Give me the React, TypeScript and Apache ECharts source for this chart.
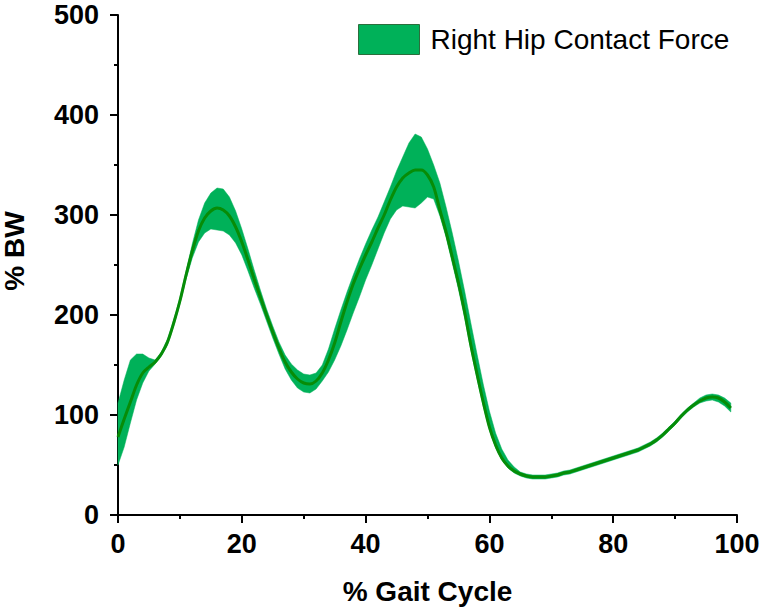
import React, { useEffect, useRef } from "react";
import * as echarts from "echarts";

const gaitPct: number[] = Array.from({ length: 100 }, (_, i) => i);

const meanForce: number[] = [
  78, 96, 113, 130, 142, 148, 153, 161, 173, 192,
  214, 240, 264, 284, 297, 304, 307, 305, 299, 288,
  273, 255, 236, 218, 200, 183, 167, 153, 143, 136,
  132, 131, 134, 142, 155, 172, 193, 213, 231, 246,
  260, 273, 287, 300, 315, 328, 337, 342, 345, 345,
  340, 328, 305, 283, 258, 232, 203, 170, 141, 113,
  88, 70, 57, 49, 44, 41, 39, 38, 38, 38,
  39, 40, 42, 43, 45, 47, 49, 51, 53, 55,
  57, 59, 61, 63, 65, 68, 71, 75, 80, 86,
  92, 99, 105, 110, 114, 117, 118, 117, 113, 107,
];

const upperForce: number[] = [
  112, 135, 155, 161, 161, 157, 155, 163, 176, 195,
  217, 244, 271, 295, 312, 322, 327, 326, 318, 304,
  286, 266, 245, 225, 206, 189, 173, 160, 151, 145,
  141, 140, 142, 150, 166, 186, 205, 223, 240, 256,
  271, 285, 298, 313, 328, 344, 358, 372, 381, 378,
  366, 350, 332, 308, 282, 254, 224, 192, 161, 131,
  104, 82, 66, 55, 48, 43, 41, 40, 40, 40,
  41, 42, 44, 45, 47, 49, 51, 53, 55, 57,
  59, 61, 63, 65, 67, 70, 73, 77, 82, 88,
  94, 101, 107, 112, 117, 120, 121, 120, 117, 112,
];

const lowerForce: number[] = [
  50, 68, 92, 115, 132, 144, 151, 159, 170, 189,
  211, 236, 257, 273, 282, 286, 285, 284, 280, 272,
  260, 244, 227, 211, 194, 177, 161, 146, 135, 127,
  123, 122, 126, 134, 143, 155, 169, 185, 202, 218,
  235, 250, 266, 282, 296, 305, 309, 308, 307, 312,
  318, 316, 299, 278, 252, 226, 197, 165, 136, 109,
  85, 67, 55, 47, 42, 39, 37, 36, 36, 36,
  37, 38, 40, 41, 43, 45, 47, 49, 51, 53,
  55, 57, 59, 61, 63, 66, 69, 73, 78, 84,
  90, 97, 103, 108, 112, 114, 115, 113, 109, 103,
];

const seriesName = "Right Hip Contact Force";
const xTicks = { min: 0, max: 100, interval: 20 };
const yTicks = { min: 0, max: 500, interval: 100 };

const BAND = "#00B159";
const MEAN = "#078c07";
const FONT = "'Liberation Sans', Arial, Helvetica, sans-serif";

export default function App() {
  const ref = useRef<HTMLDivElement>(null);
  useEffect(() => {
    document.body.style.margin = "0";
    if (!ref.current) return;
    const chart = echarts.init(ref.current, undefined, { renderer: "svg" });
    const axisCommon = {
      axisLine: { show: true, lineStyle: { color: "#000", width: 2 } },
      axisTick: { show: true, inside: false, length: 8, lineStyle: { color: "#000", width: 2 } },
      minorTick: { show: true, splitNumber: 2, length: 4, lineStyle: { color: "#000", width: 2 } },
      splitLine: { show: false },
      nameLocation: "middle" as const,
    };
    const nameStyle = { fontFamily: FONT, fontWeight: "bold", fontSize: 28, color: "#000" };
    chart.setOption({
      animation: false,
      backgroundColor: "#fff",
      grid: {
        left: 118,
        right: 25,
        top: 15,
        bottom: 95,
        containLabel: false,
        outerBoundsMode: "none",
      },
      legend: {
        show: true,
        left: 358,
        top: 24,
        padding: 0,
        itemWidth: 61,
        itemHeight: 30,
        icon: "rect",
        data: [
          {
            name: seriesName,
            itemStyle: { color: BAND, borderColor: "#2b6e3c", borderWidth: 1 },
          },
        ],
        textStyle: {
          fontFamily: FONT,
          fontSize: 28,
          color: "#000",
          padding: [0, 0, 0, 6],
        },
      },
      xAxis: {
        type: "value",
        ...xTicks,
        ...axisCommon,
        name: "% Gait Cycle",
        nameGap: 62,
        nameTextStyle: nameStyle,
        axisLabel: {
          fontFamily: FONT,
          fontWeight: "bold",
          fontSize: 27,
          color: "#000",
          margin: 15,
        },
      },
      yAxis: {
        type: "value",
        ...yTicks,
        ...axisCommon,
        name: "% BW",
        nameGap: 90,
        nameTextStyle: { ...nameStyle, padding: [0, 0, 0, 28] },
        axisLabel: {
          fontFamily: FONT,
          fontWeight: "bold",
          fontSize: 27,
          color: "#000",
          margin: 19,
        },
      },
      series: [
        {
          name: seriesName,
          type: "custom",
          z: 2,
          itemStyle: { color: BAND },
          data: [[0, 0]],
          encode: { x: 0, y: 1 },
          renderItem: (_params: any, api: any) => {
            const pts: number[][] = [];
            for (let i = 0; i < gaitPct.length; i++) {
              pts.push(api.coord([gaitPct[i], upperForce[i]]));
            }
            for (let i = gaitPct.length - 1; i >= 0; i--) {
              pts.push(api.coord([gaitPct[i], lowerForce[i]]));
            }
            return {
              type: "polygon",
              shape: { points: pts },
              style: { fill: BAND, stroke: BAND, lineWidth: 0.5 },
            };
          },
        },
        {
          name: "mean",
          type: "line",
          z: 3,
          data: gaitPct.map((x, i) => [x, meanForce[i]]),
          showSymbol: false,
          symbol: "none",
          smooth: 0.3,
          lineStyle: { color: MEAN, width: 3 },
          itemStyle: { color: MEAN },
        },
      ],
    });
    return () => chart.dispose();
  }, []);
  return <div ref={ref} style={{ width: 762, height: 610 }} />;
}
